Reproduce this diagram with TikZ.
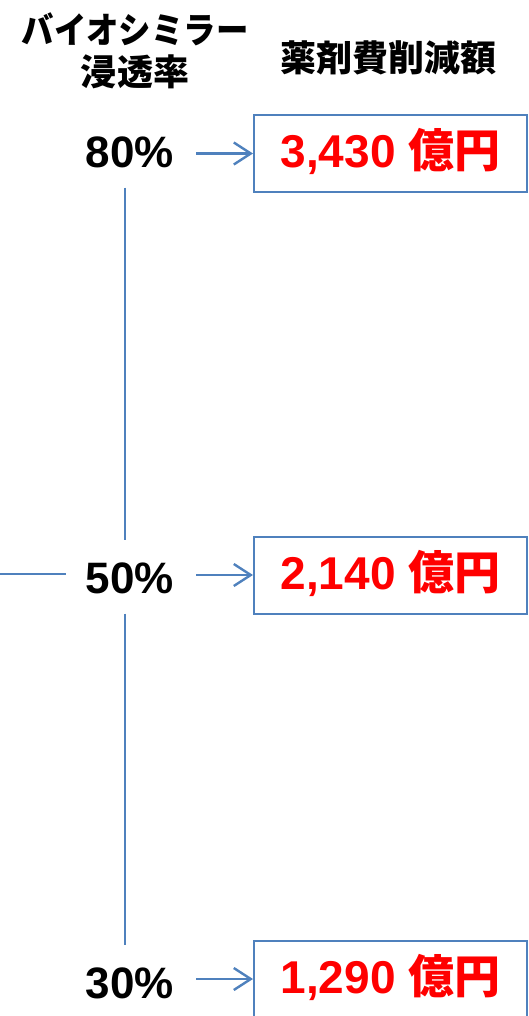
\documentclass[tikz,border=0pt]{standalone}
\usepackage{fontspec}
\setmainfont{Liberation Sans}
\newfontfamily\jpfont{Noto Sans CJK JP}
\usepackage{tikz}
\usetikzlibrary{calc, arrows.meta}
\definecolor{lineblue}{HTML}{4F81BD}

\begin{document}
\begin{tikzpicture}[x=1pt, y=-1pt,
        link/.style={lineblue, line width=2.4pt},
        pct/.style={font=\fontsize{44}{44}\selectfont\bfseries, inner sep=0pt, anchor=base},
        valbox/.style={draw=lineblue, line width=2pt, minimum width=273pt, minimum height=77pt,
            inner sep=0pt, text height=29pt, text depth=0pt, text=red,
            font=\fontsize{46}{46}\selectfont\bfseries},
        head/.style={font=\jpfont\bfseries\fontsize{36}{42}\selectfont, align=center, inner sep=0pt}]
            \useasboundingbox (0,0) rectangle (529,1016);
            \node[head] (hrate) at (135,51) {\scalebox{0.9}[1]{バイオシミラー}\\浸透率};
            \node[head] (hcut) at (388,58) {薬剤費削減額};
            \node[pct] (p80) at (130,168) {80\%};
            \node[pct] (p50) at (130,593) {50\%};
            \node[pct] (p30) at (130,998) {30\%};
            \node[valbox] (b80) at (390.5,153.5) {3,430 {\jpfont 億円}};
            \node[valbox] (b50) at (390.5,575) {2,140 {\jpfont 億円}};
            \node[valbox] (b30) at (390.5,979) {1,290 {\jpfont 億円}};
            \coordinate (lft) at (0,574);
            \draw[link, -{Straight Barb[length=17pt, width=22pt]}, shorten <=22pt]
                (p80.east |- b80.west) -- (b80.west);
            \draw[link, -{Straight Barb[length=17pt, width=22pt]}, shorten <=22pt]
                (p50.east |- b50.west) -- (b50.west);
            \draw[link, -{Straight Barb[length=17pt, width=22pt]}, shorten <=22pt]
                (p30.east |- b30.west) -- (b30.west);
            \draw[link, shorten <=19pt, shorten >=22pt] ([xshift=-5pt]p80.south) -- ([xshift=-5pt]p50.north);
            \draw[link, shorten <=20pt, shorten >=22pt] ([xshift=-5pt]p50.south) -- ([xshift=-5pt]p30.north);
            \draw[link, shorten >=20pt] (lft) -- (lft -| p50.west);
        \end{tikzpicture}
\end{document}
